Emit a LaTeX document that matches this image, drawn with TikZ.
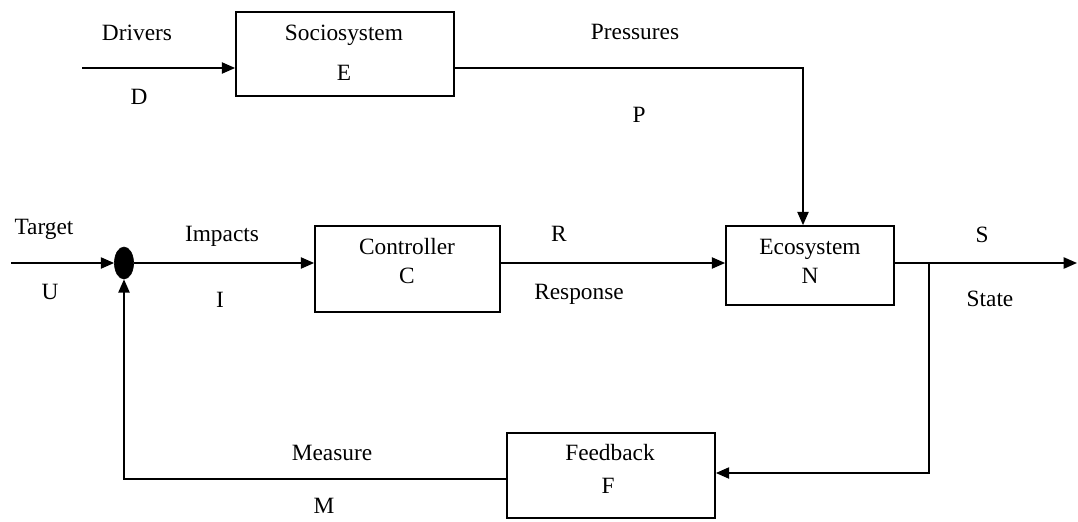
\documentclass[tikz,border=0pt]{standalone}
\usepackage{fontspec}
\setmainfont{Liberation Serif}
\usetikzlibrary{shapes.geometric,arrows.meta,positioning,calc}
\tikzset{
    % System block style
    block/.style={
        rectangle, draw=black, line width=1.2pt, fill=white
    },
    % Summing junction style
    summer/.style={
        ellipse, draw=black, fill=black,
        minimum width=0.48cm, minimum height=0.8cm, inner sep=0pt
    },
    % Text label style
    lbl/.style={
        inner sep=0pt, text height=10.9pt, text depth=0pt,
        font=\fontsize{16.6}{19}\selectfont
    },
    % Signal line styles
    signal/.style={
        line width=1.2pt, -{Triangle[length=9.5pt,width=8pt]}
    },
    wire/.style={
        line width=1.2pt
    }
}

\begin{document}
\begin{tikzpicture}[x=0.025cm, y=-0.025cm]
\useasboundingbox (0,0) rectangle (1078,521);

% Blocks
\node[block, minimum width=5.45cm, minimum height=2.1cm] (socio) at (345,54) {};
\node[block, minimum width=4.625cm, minimum height=2.15cm] (ctrl) at (407.5,269) {};
\node[block, minimum width=4.2cm, minimum height=1.975cm] (eco) at (810,265.5) {};
\node[block, minimum width=5.2cm, minimum height=2.125cm] (fb) at (611,475.5) {};
\node[summer] (sum) at (124,263) {};

% Block texts
\node[lbl] (socioname) at (344,33) {Sociosystem};
\node[lbl] (socioletter) at (344,73) {E};
\node[lbl] (ctrlname) at (407,247) {Controller};
\node[lbl] (ctrlletter) at (407,276) {C};
\node[lbl] (econame) at (810,247) {Ecosystem};
\node[lbl] (ecoletter) at (810,276) {N};
\node[lbl] (fbname) at (610,453) {Feedback};
\node[lbl] (fbletter) at (608,486) {F};

% Signal texts
\node[lbl] (drivers) at (137,33) {Drivers};
\node[lbl] (d) at (139,97) {D};
\node[lbl] (pressures) at (635,32) {Pressures};
\node[lbl] (p) at (639,115) {P};
\node[lbl] (target) at (44,227) {Target};
\node[lbl] (u) at (50,292) {U};
\node[lbl] (impacts) at (222,234) {Impacts};
\node[lbl] (i) at (220,300) {I};
\node[lbl] (r) at (559,234) {R};
\node[lbl] (response) at (579,292) {Response};
\node[lbl] (s) at (982,235) {S};
\node[lbl] (state) at (990,299) {State};
\node[lbl] (measure) at (332,453) {Measure};
\node[lbl] (m) at (324,506) {M};

% Connector points
\coordinate (drvin) at (82,68);
\coordinate (pbend) at (803,68);
\coordinate (tgtin) at (11,263);
\coordinate (out) at (1077,263);
\coordinate (br) at (929,263);
\coordinate (sbend) at (929,473);
\coordinate (mbend) at (124,479);

% Connectors
\draw[signal] (drvin) -- (drvin -| socio.west);
\draw[signal] (socio.east |- pbend) -- (pbend) -- (pbend |- eco.north);
\draw[signal] (tgtin) -- (sum.west);
\draw[signal] (sum.east) -- (sum.east -| ctrl.west);
\draw[signal] (ctrl.east |- sum) -- (eco.west |- sum);
\draw[signal] (eco.east |- sum) -- (out);
\draw[signal] (br) -- (sbend) -- (sbend -| fb.east);
\draw[signal] (fb.west |- mbend) -- (mbend) -- (sum.south);

\end{tikzpicture}
\end{document}
